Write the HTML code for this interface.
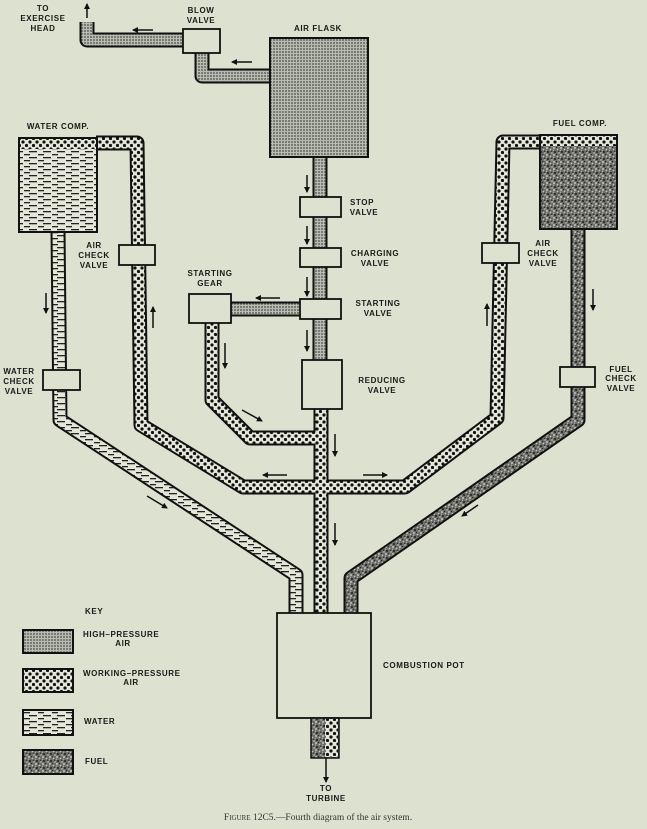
<!DOCTYPE html>
<html><head><meta charset="utf-8"><style>
html,body{margin:0;padding:0;background:#dde1d0;}
svg{display:block;}
text{font-family:"Liberation Sans",sans-serif;font-weight:bold;font-size:8px;fill:#1a1a1a;letter-spacing:0.6px;}
</style></head><body>
<svg width="647" height="829" viewBox="0 0 647 829" xmlns="http://www.w3.org/2000/svg">
<defs>
<pattern id="hp" width="3" height="3" patternUnits="userSpaceOnUse"><rect width="3" height="3" fill="#b9bcb0"/><circle cx="1" cy="1" r="0.9" fill="#4a4a4a"/></pattern>
<pattern id="wp" width="7" height="7" patternUnits="userSpaceOnUse"><rect width="7" height="7" fill="#e4e7d8"/><circle cx="2" cy="2" r="1.6" fill="#111"/><circle cx="5.5" cy="5.5" r="1.6" fill="#111"/></pattern>
<pattern id="wa" width="14" height="6" patternUnits="userSpaceOnUse"><rect width="14" height="6" fill="#e4e7d8"/><rect x="1" y="1" width="8" height="1.3" fill="#222"/><rect x="10" y="4" width="6" height="1.3" fill="#222"/><rect x="-4" y="4" width="6" height="1.3" fill="#222"/></pattern>
<pattern id="fu" width="7" height="7" patternUnits="userSpaceOnUse"><rect width="7" height="7" fill="#6e6e69"/><circle cx="1" cy="1" r="0.9" fill="#e0e0d8"/><circle cx="4.5" cy="2.5" r="0.8" fill="#c8c8c0"/><circle cx="2" cy="5" r="1" fill="#1e1e1e"/><circle cx="6" cy="6" r="0.7" fill="#d4d4cc"/><circle cx="3.5" cy="0.5" r="0.6" fill="#222"/><circle cx="5.5" cy="4.2" r="0.6" fill="#222"/><circle cx="0.5" cy="3.2" r="0.6" fill="#bbb"/></pattern>
<marker id="ah" markerWidth="6" markerHeight="6" refX="5" refY="3" orient="auto" markerUnits="userSpaceOnUse"><path d="M0,0 L6,3 L0,6 z" fill="#111"/></marker>
</defs>
<g fill="none" stroke-linejoin="round" stroke-linecap="butt">
<g stroke="#111" stroke-width="15">
<polyline points="87,22 87,40 185,40"/>
<polyline points="202,52 202,76 272,76"/>
<polyline points="320,156 320,362"/>
<polyline points="229,309 302,309"/>
<polyline points="212,321 212,400 250,438 321,438"/>
<polyline points="321,408 321,614"/>
<polyline points="96,143 137,143 141,425 243,487 405,487 497,418 503,142 542,142"/>
<polyline points="58,231 60,420 296,575 296,614"/>
<polyline points="578,228 578,420 351,578 351,614"/>
</g>
<g stroke-width="11">
<polyline stroke="url(#hp)" points="87,22 87,40 185,40"/>
<polyline stroke="url(#hp)" points="202,52 202,76 272,76"/>
<polyline stroke="url(#hp)" points="320,156 320,362"/>
<polyline stroke="url(#hp)" points="229,309 302,309"/>
<polyline stroke="url(#wp)" points="212,321 212,400 250,438 321,438"/>
<polyline stroke="url(#wp)" points="321,408 321,614"/>
<polyline stroke="url(#wp)" points="96,143 137,143 141,425 243,487 405,487 497,418 503,142 542,142"/>
<polyline stroke="url(#wa)" points="58,231 60,420 296,575 296,614"/>
<polyline stroke="url(#fu)" points="578,228 578,420 351,578 351,614"/>
</g>
</g>
<rect x="270" y="38" width="98" height="119" fill="url(#hp)" stroke="#111" stroke-width="2"/>
<rect x="19" y="138" width="78" height="94" fill="url(#wa)" stroke="#111" stroke-width="2"/>
<rect x="20" y="139" width="76" height="10" fill="url(#wp)"/>
<rect x="540" y="135" width="77" height="94" fill="url(#fu)" stroke="#111" stroke-width="2"/>
<rect x="541" y="136" width="75" height="10" fill="url(#wp)"/>
<g fill="#dde1d0" stroke="#111" stroke-width="1.8">
<rect x="183" y="29" width="37" height="24"/>
<rect x="300" y="197" width="41" height="20"/>
<rect x="300" y="248" width="41" height="19"/>
<rect x="300" y="299" width="41" height="20"/>
<rect x="302" y="360" width="40" height="49"/>
<rect x="189" y="294" width="42" height="29"/>
<rect x="119" y="245" width="36" height="20"/>
<rect x="43" y="370" width="37" height="20"/>
<rect x="482" y="243" width="37" height="20"/>
<rect x="560" y="367" width="35" height="20"/>
<rect x="277" y="613" width="94" height="105"/>
</g>
<rect x="311" y="718" width="28" height="40" fill="url(#fu)" stroke="#111" stroke-width="1.5"/>
<rect x="325" y="719" width="13" height="38" fill="url(#wp)"/>
<g stroke="#111" stroke-width="1.5" marker-end="url(#ah)">
<line x1="87" y1="18" x2="87" y2="4"/>
<line x1="153" y1="30" x2="133" y2="30"/>
<line x1="252" y1="62" x2="232" y2="62"/>
<line x1="307" y1="175" x2="307" y2="192"/>
<line x1="307" y1="226" x2="307" y2="244"/>
<line x1="307" y1="277" x2="307" y2="296"/>
<line x1="307" y1="330" x2="307" y2="351"/>
<line x1="280" y1="298" x2="256" y2="298"/>
<line x1="225" y1="343" x2="225" y2="368"/>
<line x1="242" y1="410" x2="262" y2="421"/>
<line x1="335" y1="434" x2="335" y2="456"/>
<line x1="335" y1="523" x2="335" y2="545"/>
<line x1="287" y1="475" x2="263" y2="475"/>
<line x1="363" y1="475" x2="387" y2="475"/>
<line x1="46" y1="293" x2="46" y2="313"/>
<line x1="153" y1="328" x2="153" y2="307"/>
<line x1="487" y1="326" x2="487" y2="304"/>
<line x1="593" y1="289" x2="593" y2="310"/>
<line x1="147" y1="496" x2="167" y2="508"/>
<line x1="478" y1="505" x2="462" y2="516"/>
<line x1="326" y1="758" x2="326" y2="782"/>
</g>
<g text-anchor="middle">
<text x="43" y="11">TO</text><text x="43" y="21">EXERCISE</text><text x="43" y="31">HEAD</text>
<text x="201" y="13">BLOW</text><text x="201" y="23">VALVE</text>
<text x="318" y="31">AIR FLASK</text>
<text x="58" y="129">WATER COMP.</text>
<text x="580" y="126">FUEL COMP.</text>
<text x="362" y="205">STOP</text><text x="364" y="215">VALVE</text>
<text x="375" y="256">CHARGING</text><text x="375" y="266">VALVE</text>
<text x="378" y="306">STARTING</text><text x="378" y="316">VALVE</text>
<text x="382" y="383">REDUCING</text><text x="382" y="393">VALVE</text>
<text x="210" y="276">STARTING</text><text x="210" y="286">GEAR</text>
<text x="94" y="248">AIR</text><text x="94" y="258">CHECK</text><text x="94" y="268">VALVE</text>
<text x="543" y="246">AIR</text><text x="543" y="256">CHECK</text><text x="543" y="266">VALVE</text>
<text x="19" y="374">WATER</text><text x="19" y="384">CHECK</text><text x="19" y="394">VALVE</text>
<text x="621" y="372">FUEL</text><text x="621" y="381">CHECK</text><text x="621" y="391">VALVE</text>
<text x="326" y="791">TO</text><text x="326" y="801">TURBINE</text>
<text x="123" y="646">AIR</text><text x="131" y="685">AIR</text>
</g>
<text x="383" y="668">COMBUSTION POT</text>
<text x="85" y="614">KEY</text>
<text x="83" y="637">HIGH–PRESSURE</text>
<text x="83" y="676">WORKING–PRESSURE</text>
<text x="84" y="724">WATER</text>
<text x="85" y="764">FUEL</text>
<rect x="23" y="630" width="50" height="23" fill="url(#hp)" stroke="#111" stroke-width="2"/>
<rect x="23" y="669" width="50" height="23" fill="url(#wp)" stroke="#111" stroke-width="2"/>
<rect x="23" y="710" width="50" height="25" fill="url(#wa)" stroke="#111" stroke-width="2"/>
<rect x="23" y="750" width="50" height="24" fill="url(#fu)" stroke="#111" stroke-width="2"/>
<text x="318" y="820" text-anchor="middle" style="font-family:'Liberation Serif',serif;font-weight:normal;font-size:9.5px;letter-spacing:0;fill:#333">F<tspan font-size="7">IGURE</tspan> 12C5.—Fourth diagram of the air system.</text>
</svg>
</body></html>
